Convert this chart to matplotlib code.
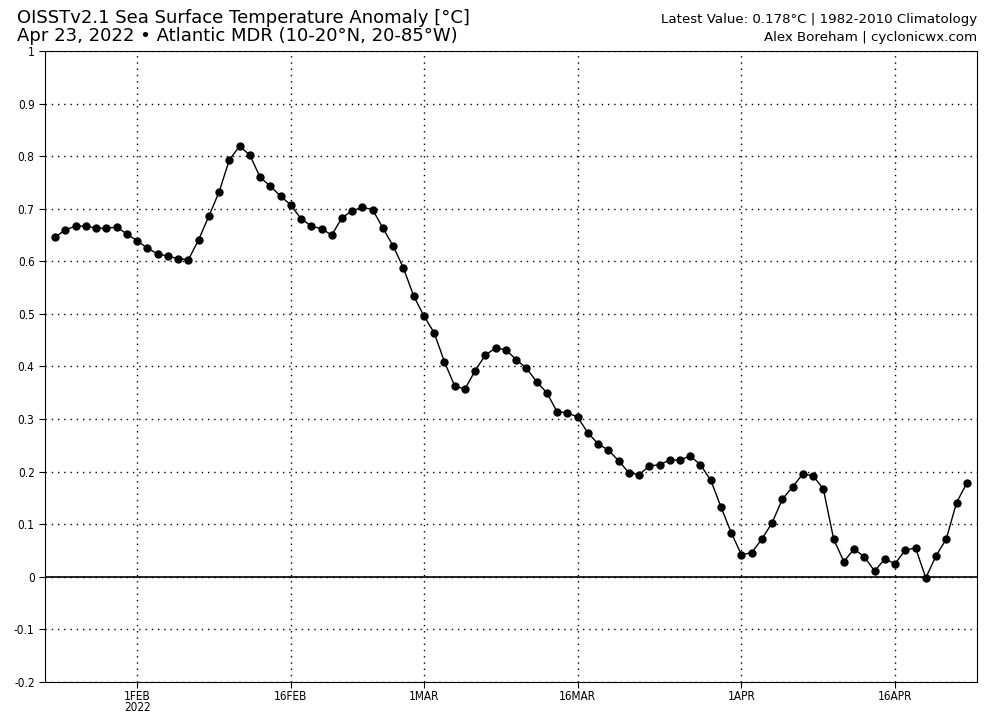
import datetime as dt
import numpy as np
import matplotlib
matplotlib.use("Agg")
import matplotlib.pyplot as plt
import matplotlib.dates as mdates

# daily MDR SST anomaly, 24 Jan - 23 Apr 2022
start = dt.datetime(2022, 1, 24)
anom = [
    0.646, 0.660, 0.667, 0.667, 0.663, 0.663, 0.665, 0.652,
    0.639, 0.625, 0.614, 0.610, 0.605, 0.603, 0.641, 0.686, 0.732, 0.793,
    0.819, 0.802, 0.760, 0.743, 0.724, 0.707, 0.681, 0.667, 0.662, 0.650,
    0.683, 0.696, 0.703, 0.698, 0.663, 0.629, 0.587, 0.534,
    0.496, 0.464, 0.409, 0.363, 0.357, 0.392, 0.422, 0.435, 0.432, 0.413,
    0.397, 0.371, 0.350, 0.314, 0.312, 0.304, 0.274, 0.253, 0.241, 0.221,
    0.198, 0.194, 0.211, 0.213, 0.222, 0.222, 0.230, 0.213, 0.184, 0.133,
    0.084,
    0.042, 0.046, 0.072, 0.103, 0.148, 0.171, 0.196, 0.192, 0.167, 0.072,
    0.029, 0.053, 0.038, 0.011, 0.034, 0.025, 0.051, 0.055, -0.002, 0.040,
    0.072, 0.141, 0.178,
]
dates = [start + dt.timedelta(days=i) for i in range(len(anom))]

tick_dates = [dt.datetime(2022, 2, 1), dt.datetime(2022, 2, 16), dt.datetime(2022, 3, 1),
              dt.datetime(2022, 3, 16), dt.datetime(2022, 4, 1), dt.datetime(2022, 4, 16)]
tick_labels = ["1FEB\n2022", "16FEB", "1MAR", "16MAR", "1APR", "16APR"]
yticks = [-0.2, -0.1, 0, 0.1, 0.2, 0.3, 0.4, 0.5, 0.6, 0.7, 0.8, 0.9, 1]
ylabels = ["-0.2", "-0.1", "0", "0.1", "0.2", "0.3", "0.4", "0.5", "0.6",
           "0.7", "0.8", "0.9", "1"]

fig = plt.figure(figsize=(10, 7.14), dpi=100)
ax = fig.add_axes([0.045, 0.0448, 0.932, 0.8838])

ax.plot(dates, anom, "-o", color="black", lw=1, ms=5)
ax.axhline(0, color="black", lw=1.2, zorder=1)

ax.set_xlim(dt.datetime(2022, 1, 23), dt.datetime(2022, 4, 24))
ax.set_ylim(-0.2, 1)
ax.set_xticks(tick_dates)
ax.set_xticklabels(tick_labels, fontsize=8.5, fontstretch="condensed", linespacing=0.85)
ax.set_yticks(yticks)
ax.set_yticklabels(ylabels, fontsize=8.5, fontstretch="condensed")
ax.tick_params(direction="out", length=4, width=0.8)
ax.tick_params(axis="x", pad=1.5)
ax.grid(True, color="black", linestyle=(0, (1, 3.5)), lw=1)

fig.text(0.017, 0.975, "OISSTv2.1 Sea Surface Temperature Anomaly [°C]",
         fontsize=13, ha="left", va="center")
fig.text(0.017, 0.949, "Apr 23, 2022 \u2022 Atlantic MDR (10-20°N, 20-85°W)",
         fontsize=13, ha="left", va="center")
fig.text(0.977, 0.973, "Latest Value: 0.178°C | 1982-2010 Climatology",
         fontsize=9.6, ha="right", va="center")
fig.text(0.977, 0.948, "Alex Boreham | cyclonicwx.com",
         fontsize=9.6, ha="right", va="center")

fig.savefig("out.png", dpi=100)
